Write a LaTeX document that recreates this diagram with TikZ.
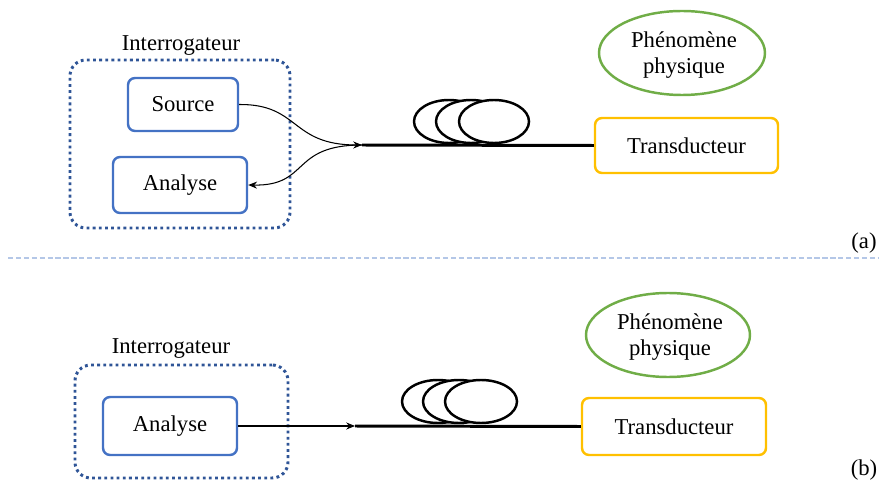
\documentclass[tikz,border=0pt]{standalone}
\usepackage{fontspec}
\setmainfont{Liberation Serif}
\usetikzlibrary{arrows.meta}
\definecolor{boxblue}{HTML}{4472C4}
\definecolor{darkblue}{HTML}{2F5597}
\definecolor{ylw}{HTML}{FFC000}
\definecolor{grn}{HTML}{70AD47}
\definecolor{sep}{HTML}{B4C7E7}
\tikzset{
  txt/.style={font=\fontsize{12.9}{14.8}\selectfont},
  bluebox/.style={draw=boxblue, line width=1.4pt, rounded corners=4pt, txt, inner sep=0pt},
  interbox/.style={draw=darkblue, line width=1.7pt, dash pattern=on 1.6pt off 1.9pt, rounded corners=9pt, inner sep=0pt},
  transbox/.style={draw=ylw, line width=1.4pt, rounded corners=4pt, txt, inner sep=0pt},
  fiber/.style={line width=1.7pt},
  coil/.style={line width=1.4pt, fill=white},
  sig/.style={line width=0.6pt, -{Stealth[length=5pt,width=4pt]}},
}
\begin{document}
\begin{tikzpicture}[x=0.02cm, y=-0.02cm]
\useasboundingbox (0,0) rectangle (879,486);

% ---------- (a) ----------
\node[interbox, minimum width=220*0.02cm, minimum height=168*0.02cm] (intA) at (180,144) {};
\node[txt] (intAlab) at (181,46) {Interrogateur};
\node[bluebox, minimum width=110*0.02cm, minimum height=53*0.02cm] (srcA) at (183,104.5) {Source};
\node[bluebox, minimum width=134*0.02cm, minimum height=56*0.02cm] (anaA) at (180,185) {Analyse};
\node[transbox, minimum width=183*0.02cm, minimum height=55*0.02cm] (trA) at (686.5,145.5) {Transducteur};
\draw[grn, line width=1.4pt] (682,53) ellipse [x radius=83, y radius=42];
\node[txt, align=center] (phA) at (684,55) {Phénomène\\physique};

\coordinate (fA) at (362,145);
\foreach \cx in {449,471,494}
  \draw[coil] (\cx,121.5) ellipse [x radius=35, y radius=21.5];
\draw[fiber] (fA) -- (trA.west);

\draw[sig] (srcA.east) .. controls (300,104) and (290,145) .. (fA);
\draw[sig] (fA) .. controls (290,145) and (310,186) .. (anaA.east);

\node[txt] (labA) at (864,243) {(a)};

% separator
\coordinate (sepL) at (8,258);
\coordinate (sepR) at (879,258);
\draw[sep, line width=0.6pt, dash pattern=on 3pt off 1.5pt] (sepL) -- (sepR);

% ---------- (b) ----------
\node[interbox, minimum width=213*0.02cm, minimum height=113*0.02cm] (intB) at (181.5,421.5) {};
\node[txt] (intBlab) at (171,349) {Interrogateur};
\node[bluebox, minimum width=134*0.02cm, minimum height=58*0.02cm] (anaB) at (170,426) {Analyse};
\node[transbox, minimum width=184*0.02cm, minimum height=57*0.02cm] (trB) at (674,426.5) {Transducteur};
\draw[grn, line width=1.4pt] (668,335) ellipse [x radius=82, y radius=42];
\node[txt, align=center] (phB) at (670,337) {Phénomène\\physique};

\coordinate (fB) at (355,426);
\foreach \cx in {438,459,481}
  \draw[coil] (\cx,401.5) ellipse [x radius=36, y radius=21.5];
\draw[fiber] (fB) -- (trB.west);
\draw[sig] (anaB.east) -- (fB);

\node[txt] (labB) at (864,470) {(b)};
\end{tikzpicture}
\end{document}
